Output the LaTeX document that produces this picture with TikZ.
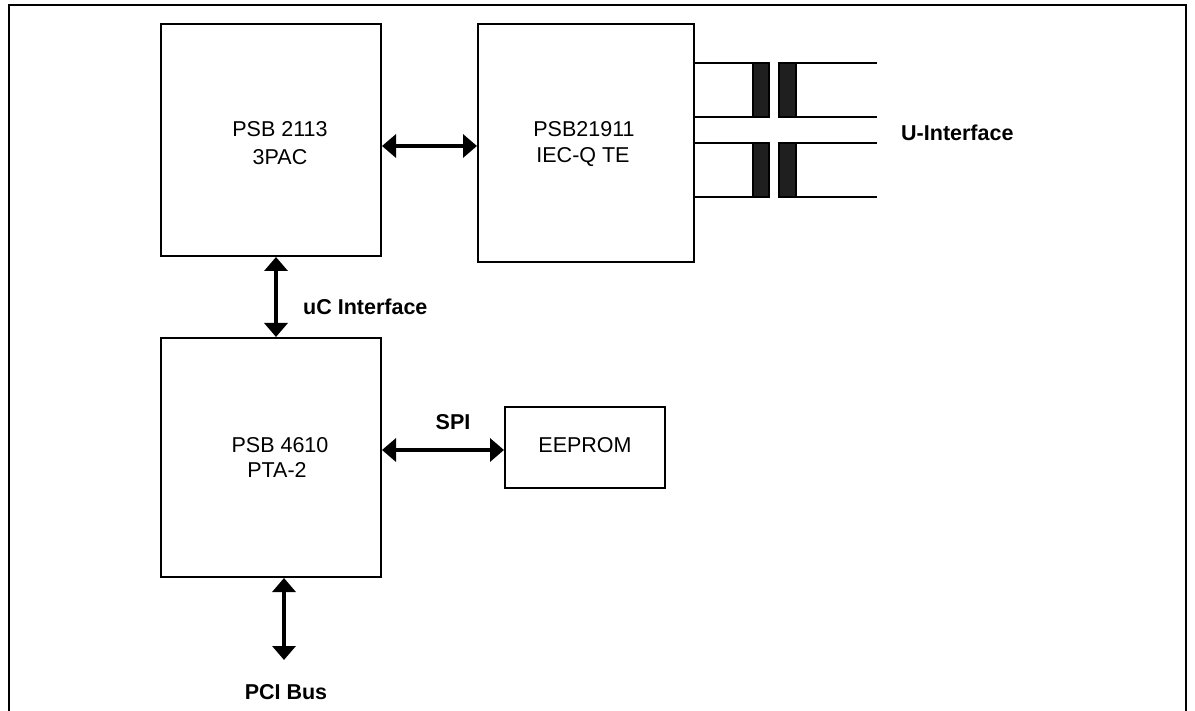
\documentclass[tikz,border=0pt]{standalone}
\usepackage{fontspec}
\setmainfont{Liberation Sans}
\usetikzlibrary{arrows.meta}
\begin{document}
\begin{tikzpicture}[x=1pt,y=-1pt,
  blk/.style={draw,line width=1.6pt,fill=white},
  txt/.style={font=\fontsize{21.5}{26}\selectfont,anchor=base,inner sep=0pt},
  lbl/.style={font=\fontsize{21.5}{26}\selectfont\bfseries,anchor=base,inner sep=0pt},
  bus/.style={line width=4.5pt,{Triangle[length=14pt,width=23pt]}-{Triangle[length=14pt,width=23pt]}},
  wire/.style={line width=1.6pt},
  core/.style={draw,line width=1.2pt,fill=black!88}]
\useasboundingbox (0,0) rectangle (1195,711);
\draw[line width=1.8pt] (9,711) -- (9,5) -- (1186,5) -- (1186,711);
% blocks
\draw[blk] (161,24) rectangle (381,256);
\node[txt] (pac1) at (280,137) {PSB 2113};
\node[txt] (pac2) at (280,165) {3PAC};
\draw[blk] (478,24) rectangle (694,262);
\node[txt] (iec1) at (584,137) {PSB21911};
\node[txt] (iec2) at (583,163) {IEC-Q TE};
\draw[blk] (161,338) rectangle (381,577);
\node[txt] (pta1) at (280,453) {PSB 4610};
\node[txt] (pta2) at (277,478) {PTA-2};
\draw[blk] (505,407) rectangle (665,488);
\node[txt] (eep) at (585,453) {EEPROM};
% arrow anchors
\coordinate (a1) at (382,146); \coordinate (a2) at (477,146);
\coordinate (b1) at (276,257); \coordinate (b2) at (276,337);
\coordinate (c1) at (382,450); \coordinate (c2) at (504,450);
\coordinate (d1) at (284,578); \coordinate (d2) at (284,660);
\draw[bus] (a1) -- (a2);
\draw[bus] (b1) -- (b2);
\draw[bus] (c1) -- (c2);
\draw[bus] (d1) -- (d2);
\node[lbl,anchor=base west] (uc) at (303,315) {uC Interface};
\node[lbl] (spi) at (453,429) {SPI};
\node[lbl] (pci) at (286,699) {PCI Bus};
\node[lbl,anchor=base west] (uif) at (901,141) {U-Interface};
% transformers
\foreach \y/\h in {63/117,143/197}{
  \draw[wire] (694,\y) -- (753,\y);
  \draw[wire] (694,\h) -- (753,\h);
  \draw[wire] (796,\y) -- (877,\y);
  \draw[wire] (796,\h) -- (877,\h);
  \draw[core] (753,\y) rectangle (769,\h);
  \draw[core] (779,\y) rectangle (796,\h);
}
\end{tikzpicture}
\end{document}
